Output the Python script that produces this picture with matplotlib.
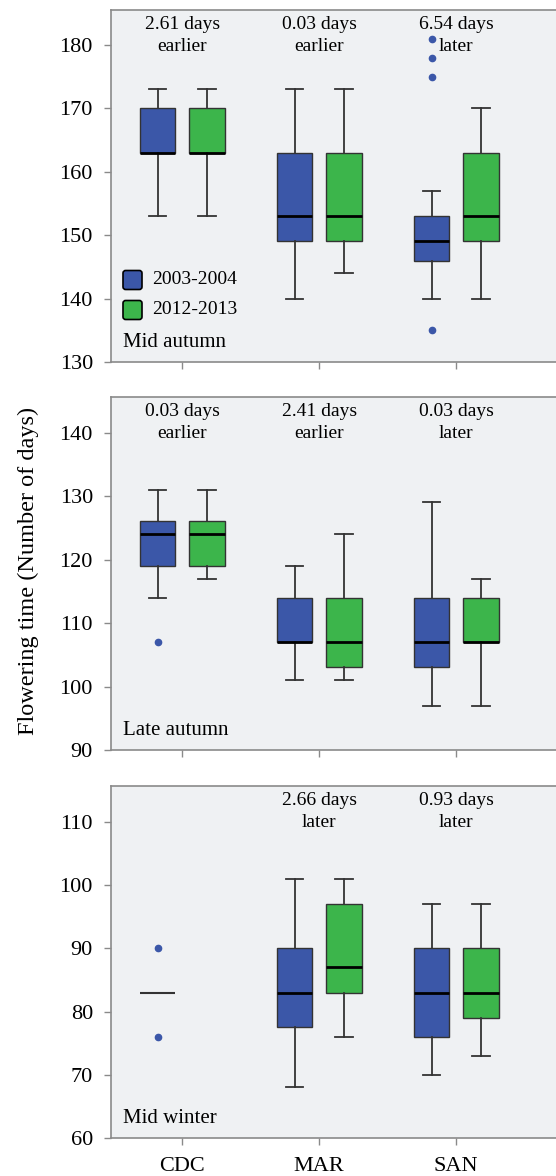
import matplotlib
matplotlib.use("Agg")
import matplotlib.pyplot as plt
from matplotlib.patches import FancyBboxPatch

plt.rcParams['font.family'] = ['Liberation Serif', 'DejaVu Serif']

# ---------------- data ----------------
sites = ["CDC", "MAR", "SAN"]
periods = ["2003-2004", "2012-2013"]
seasons = ["Mid autumn", "Late autumn", "Mid winter"]

# box stats per site: [whislo, q1, median, q3, whishi]
mid_autumn_2003 = [[153, 163, 163, 170, 173], [140, 149, 153, 163, 173], [140, 146, 149, 153, 157]]
mid_autumn_2003_fliers = [[], [], [135, 175, 178, 181]]
mid_autumn_2012 = [[153, 163, 163, 170, 173], [144, 149, 153, 163, 173], [140, 149, 153, 163, 170]]
mid_autumn_2012_fliers = [[], [], []]

late_autumn_2003 = [[114, 119, 124, 126, 131], [101, 107, 107, 114, 119], [97, 103, 107, 114, 129]]
late_autumn_2003_fliers = [[107], [], []]
late_autumn_2012 = [[117, 119, 124, 126, 131], [101, 103, 107, 114, 124], [97, 107, 107, 114, 117]]
late_autumn_2012_fliers = [[], [], []]

mid_winter_2003 = [[83, 83, 83, 83, 83], [68, 77.5, 83, 90, 101], [70, 76, 83, 90, 97]]
mid_winter_2003_fliers = [[76, 90], [], []]
mid_winter_2012 = [None, [76, 83, 87, 97, 101], [73, 79, 83, 90, 97]]
mid_winter_2012_fliers = [[], [], []]

changes_mid_autumn = ["2.61 days\nearlier", "0.03 days\nearlier", "6.54 days\nlater"]
changes_late_autumn = ["0.03 days\nearlier", "2.41 days\nearlier", "0.03 days\nlater"]
changes_mid_winter = ["", "2.66 days\nlater", "0.93 days\nlater"]

yticks_mid_autumn = [130, 140, 150, 160, 170, 180]
yticks_late_autumn = [90, 100, 110, 120, 130, 140]
yticks_mid_winter = [60, 70, 80, 90, 100, 110]

# ---------------- style ----------------
BLUE = "#3b57a8"
GREEN = "#3cb54b"
BG = "#eff1f3"
SPINE = "#8a8a8a"
EDGE = "#333333"

W, H = 556, 1176
fig = plt.figure(figsize=(W / 100, H / 100), dpi=100)

panels = [
    (seasons[0], mid_autumn_2003, mid_autumn_2003_fliers, mid_autumn_2012, mid_autumn_2012_fliers,
     changes_mid_autumn, yticks_mid_autumn, (130, 185.5), (10, 362)),
    (seasons[1], late_autumn_2003, late_autumn_2003_fliers, late_autumn_2012, late_autumn_2012_fliers,
     changes_late_autumn, yticks_late_autumn, (90, 145.6), (397, 750)),
    (seasons[2], mid_winter_2003, mid_winter_2003_fliers, mid_winter_2012, mid_winter_2012_fliers,
     changes_mid_winter, yticks_mid_winter, (60, 115.7), (786, 1138)),
]

left_px = 111
offset = 0.18
bw = 0.26
xlo = 0.48
xhi = xlo + (W - left_px) / 137.0


def make_stats(vals, fl):
    return dict(whislo=vals[0], q1=vals[1], med=vals[2], q3=vals[3], whishi=vals[4], fliers=fl)


for pi, (season, d03, f03, d12, f12, changes, yt, ylim, (top_px, bot_px)) in enumerate(panels):
    ax = fig.add_axes([left_px / W, 1 - bot_px / H, (W - left_px) / W, (bot_px - top_px) / H])
    ax.set_facecolor(BG)
    for data, fl, sign, color in [(d03, f03, -1, BLUE), (d12, f12, 1, GREEN)]:
        for i, vals in enumerate(data):
            if vals is None:
                continue
            pos = i + 1 + sign * offset
            st = make_stats(vals, fl[i])
            single = vals[0] == vals[4]
            ax.bxp([st], positions=[pos], widths=bw, patch_artist=True,
                   showcaps=not single,
                   boxprops=dict(facecolor=color, edgecolor=EDGE, linewidth=1.0 if not single else 0),
                   medianprops=dict(color="black" if not single else EDGE, linewidth=2.0 if not single else 1.5),
                   whiskerprops=dict(color=EDGE, linewidth=1.3),
                   capprops=dict(color=EDGE, linewidth=1.3),
                   capwidths=bw * 0.5,
                   flierprops=dict(marker="o", markersize=4.5, markerfacecolor=BLUE,
                                   markeredgecolor=BLUE, linestyle="none"),
                   manage_ticks=False)
    ax.set_xlim(xlo, xhi)
    ax.set_ylim(*ylim)
    ax.set_yticks(yt)
    ax.set_xticks([1, 2, 3])
    if pi == 2:
        ax.set_xticklabels(sites, fontsize=16)
    else:
        ax.set_xticklabels([])
    ax.tick_params(axis="y", direction="out", length=5, width=1.0, color=SPINE, labelsize=16, pad=8)
    ax.tick_params(axis="x", direction="out", length=5, width=1.0, color=SPINE, pad=9)
    for s in ["left", "bottom", "top"]:
        ax.spines[s].set_color(SPINE)
        ax.spines[s].set_linewidth(1.2)
    ax.spines["right"].set_visible(False)

    for i, txt in enumerate(changes):
        if txt:
            ax.text(i + 1, 0.927, txt, transform=ax.get_xaxis_transform(), ha="center", va="center",
                    fontsize=14, linespacing=1.35)

    ax.text(12 / (W - left_px), 0.054, season, transform=ax.transAxes, ha="left", va="center", fontsize=15)

    if pi == 0:
        axh = bot_px - top_px
        axw = W - left_px
        for j, (lab, col) in enumerate(zip(periods, [BLUE, GREEN])):
            cy_px = 280 + 30 * j
            y0 = (bot_px - (cy_px + 9.5)) / axh
            x0 = 12 / axw
            patch = FancyBboxPatch((x0, y0), 19 / axw, 19 / axh, transform=ax.transAxes,
                                   boxstyle="round,pad=0,rounding_size=0.006",
                                   facecolor=col, edgecolor="black", linewidth=1.2, mutation_aspect=axw / axh)
            ax.add_patch(patch)
            ax.text(41 / axw, (bot_px - cy_px) / axh, lab, transform=ax.transAxes,
                    ha="left", va="center", fontsize=14)

fig.text(28 / W, 1 - 571 / H, "Flowering time (Number of days)", rotation=90,
         ha="center", va="center", fontsize=17.5)

fig.savefig("out.png", dpi=100)
